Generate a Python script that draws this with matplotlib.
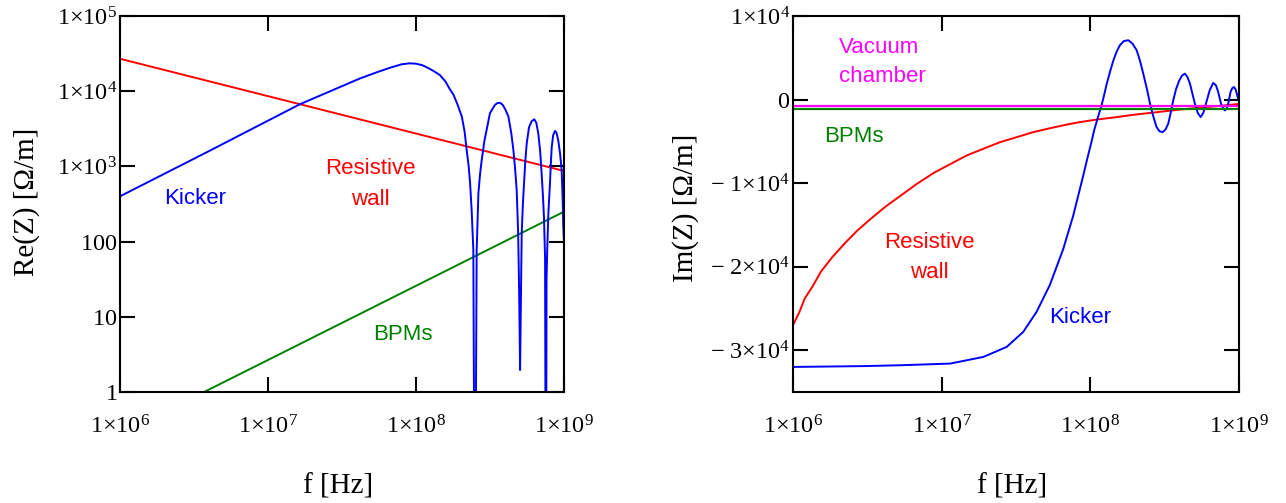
import numpy as np
import matplotlib
matplotlib.use('Agg')
import matplotlib.pyplot as plt
from matplotlib.ticker import FixedLocator, FixedFormatter, NullLocator

plt.rcParams['mathtext.fontset'] = 'custom'
plt.rcParams['mathtext.rm'] = 'Liberation Serif'
plt.rcParams['mathtext.it'] = 'Liberation Serif:italic'
plt.rcParams['font.family'] = ['Liberation Serif', 'DejaVu Serif']

# ---- Re(Z) data (left panel) ----
rw_re_f = [1e6, 1e9]
rw_re = [2.7e4, 870]

bpm_re_f = [3.7e6, 1e9]
bpm_re = [1.0, 250]

kick_re_f = [1e6, 2e6, 4e6, 7.55e6, 1.64e7, 2.76e7, 4.19e7, 5.5e7, 6.67e7,
             8e7, 9.1e7, 1.0e8, 1.1e8, 1.2e8, 1.3e8, 1.45e8, 1.58e8, 1.68e8,
             1.79e8, 1.9e8, 2.04e8, 2.13e8, 2.2e8, 2.27e8, 2.32e8, 2.38e8,
             2.44e8, 2.5e8, 2.57e8, 2.64e8, 2.71e8, 2.78e8, 2.9e8, 3.0e8,
             3.16e8, 3.42e8, 3.55e8, 3.7e8, 3.85e8, 4.0e8, 4.21e8, 4.4e8,
             4.55e8, 4.68e8, 4.79e8, 4.9e8, 4.98e8, 5.05e8, 5.12e8, 5.18e8,
             5.28e8, 5.37e8, 5.48e8, 5.6e8, 5.8e8, 6.05e8, 6.3e8, 6.5e8,
             6.7e8, 6.9e8, 7.06e8, 7.2e8, 7.32e8, 7.45e8, 7.55e8, 7.62e8,
             7.7e8, 7.85e8, 8.04e8, 8.15e8, 8.26e8, 8.45e8, 8.69e8, 8.9e8,
             9.15e8, 9.4e8, 9.64e8, 9.78e8, 9.89e8, 9.99e8, 1e9]
kick_re = [400, 800, 1600, 3.05e3, 6.7e3, 1.04e4, 1.48e4, 1.8e4, 2.05e4,
           2.28e4, 2.35e4, 2.32e4, 2.22e4, 2.05e4, 1.88e4, 1.64e4, 1.35e4, 1.09e4,
           9.0e3, 6.8e3, 4.6e3, 2.9e3, 1.65e3, 1.0e3, 600, 250,
           77, 1e-3, 77, 440, 800, 1.22e3, 2.2e3, 3.05e3,
           5.1e3, 6.6e3, 6.95e3, 7.0e3, 6.6e3, 5.8e3, 4.6e3, 2.8e3,
           1.65e3, 900, 486, 130, 20, 1.96, 20, 130,
           330, 595, 1.2e3, 2.03e3, 3.3e3, 4.0e3, 4.23e3, 3.8e3,
           2.76e3, 1.6e3, 810, 420, 214, 60, 1e-3, 30,
           77, 250, 595, 1.1e3, 1.8e3, 2.6e3, 2.96e3, 2.8e3,
           2.2e3, 1.5e3, 895, 400, 158, 100, 1e-3]

# ---- Im(Z) data (right panel) ----
rw_im_f = [1e6, 1.1e6, 1.2e6, 1.35e6, 1.54e6, 1.85e6, 2.26e6, 2.7e6, 3.32e6,
           4.2e6, 5.3e6, 6.8e6, 8.8e6, 1.15e7, 1.47e7, 1.9e7, 2.47e7, 3.2e7,
           4.13e7, 5.3e7, 6.92e7, 8.5e7, 1.1e8, 1.5e8, 2e8, 3e8, 4e8, 6e8,
           8e8, 1e9]
rw_im = [-2.7e4, -2.55e4, -2.38e4, -2.24e4, -2.06e4, -1.88e4, -1.71e4, -1.57e4,
         -1.43e4, -1.28e4, -1.15e4, -1.01e4, -8.8e3, -7.7e3, -6.7e3, -5.9e3,
         -5.1e3, -4.5e3, -3.9e3, -3.45e3, -3.0e3, -2.7e3, -2.4e3, -2.1e3,
         -1.8e3, -1.45e3, -1.2e3, -900, -700, -520]

kick_im_f = [1e6, 3e6, 5.24e6, 1.14e7, 1.91e7, 2.74e7, 3.54e7, 4.35e7, 5.34e7,
             6.57e7, 7.67e7, 8.96e7, 9.5e7, 1.02e8, 1.06e8, 1.13e8, 1.19e8,
             1.24e8, 1.29e8, 1.36e8, 1.43e8, 1.5e8, 1.58e8, 1.68e8, 1.8e8,
             1.92e8, 2.05e8, 2.16e8, 2.27e8, 2.4e8, 2.52e8, 2.65e8, 2.79e8,
             2.92e8, 3.06e8, 3.2e8, 3.34e8, 3.47e8, 3.61e8, 3.78e8, 3.97e8,
             4.15e8, 4.33e8, 4.5e8, 4.68e8, 4.86e8, 5.05e8, 5.28e8, 5.52e8,
             5.75e8, 5.99e8, 6.35e8, 6.71e8, 7.0e8, 7.25e8, 7.45e8, 7.63e8,
             8.04e8, 8.25e8, 8.46e8, 8.77e8, 9.0e8, 9.24e8, 9.5e8, 9.73e8, 1e9]
kick_im = [-3.2e4, -3.19e4, -3.18e4, -3.16e4, -3.08e4, -2.96e4, -2.78e4,
           -2.54e4, -2.22e4, -1.79e4, -1.39e4, -9.1e3, -7.2e3, -5.0e3, -3.7e3,
           -2.0e3, -700, 600, 1.9e3, 3.4e3, 4.7e3, 5.7e3, 6.5e3, 7.0e3, 7.1e3,
           6.7e3, 5.9e3, 4.6e3, 3.1e3, 1.3e3, -500, -2.0e3, -3.3e3,
           -3.8e3, -3.9e3, -3.6e3, -2.9e3, -1.6e3, -100, 1.3e3, 2.3e3,
           2.9e3, 3.1e3, 2.7e3, 1.9e3, 700, -500, -1.6e3, -2.1e3,
           -1.6e3, -500, 1.1e3, 2.0e3, 1.7e3, 900, 0, -700,
           -1.3e3, -1.1e3, -500, 900, 1.35e3, 1.5e3, 1.2e3, 500, -300]

vac_im_f = [1e6, 1e9]
vac_im = [-810, -810]
bpm_im_f = [1e6, 1e9]
bpm_im = [-1090, -1090]

x_ticks = [1e6, 1e7, 1e8, 1e9]
x_labels = [r'$1{\times}10^{6}$', r'$1{\times}10^{7}$', r'$1{\times}10^{8}$',
            r'$1{\times}10^{9}$']
re_ticks = [1, 10, 100, 1e3, 1e4, 1e5]
re_labels = [r'$1$', r'$10$', r'$100$', r'$1{\times}10^{3}$', r'$1{\times}10^{4}$',
             r'$1{\times}10^{5}$']
im_ticks = [-3e4, -2e4, -1e4, 0, 1e4]
im_labels = [r'$-\ 3{\times}10^{4}$', r'$-\ 2{\times}10^{4}$', r'$-\ 1{\times}10^{4}$',
             r'$0$', r'$1{\times}10^{4}$']

BLUE, RED, GREEN, MAG = '#0000FF', '#FF0000', '#008000', '#FF00FF'
ann_font = dict(family='Liberation Sans', fontsize=16)

fig = plt.figure(figsize=(12.86, 5.03), dpi=100)
ax1 = fig.add_axes([120 / 1286, 1 - 392 / 503, 444 / 1286, 376 / 503])
ax2 = fig.add_axes([793 / 1286, 1 - 392 / 503, 446 / 1286, 376 / 503])


def style(ax):
    ax.set_xscale('log')
    ax.set_xlim(1e6, 1e9)
    ax.xaxis.set_major_locator(FixedLocator(x_ticks))
    ax.xaxis.set_major_formatter(FixedFormatter(x_labels))
    ax.xaxis.set_minor_locator(NullLocator())
    ax.yaxis.set_minor_locator(NullLocator())
    ax.tick_params(direction='in', length=11, width=1.5, top=True, right=True,
                   labelsize=17.5)
    ax.tick_params(axis='x', pad=17)
    ax.tick_params(axis='y', pad=2)
    for s in ax.spines.values():
        s.set_linewidth(1.5)


# left: real part
ax1.set_yscale('log')
style(ax1)
ax1.set_ylim(1, 1e5)
ax1.yaxis.set_major_locator(FixedLocator(re_ticks))
ax1.yaxis.set_major_formatter(FixedFormatter(re_labels))
ax1.plot(rw_re_f, rw_re, color=RED, lw=1.4)
ax1.plot(bpm_re_f, bpm_re, color=GREEN, lw=1.4)
ax1.plot(kick_re_f, kick_re, color=BLUE, lw=1.4)
ax1.set_ylabel('Re(Z) [Ω/m]', fontsize=21, va='center')
ax1.yaxis.set_label_coords(-0.21, 0.505)
ax1.set_xlabel('f [Hz]', fontsize=21, va='center')
ax1.xaxis.set_label_coords(0.491, -0.25)
ax1.text(3.2e6, 380, 'Kicker', color=BLUE, ha='center', va='center', **ann_font)
ax1.text(4.9e7, 580, 'Resistive\nwall', color=RED, ha='center', va='center',
         linespacing=1.6, **ann_font)
ax1.text(8.2e7, 5.9, 'BPMs', color=GREEN, ha='center', va='center', **ann_font)

# right: imaginary part
style(ax2)
ax2.set_ylim(-3.5e4, 1e4)
ax2.yaxis.set_major_locator(FixedLocator(im_ticks))
ax2.yaxis.set_major_formatter(FixedFormatter(im_labels))
ax2.plot(rw_im_f, rw_im, color=RED, lw=1.4)
ax2.plot(kick_im_f, kick_im, color=BLUE, lw=1.4)
ax2.plot(bpm_im_f, bpm_im, color=GREEN, lw=1.6)
ax2.plot(vac_im_f, vac_im, color=MAG, lw=1.6)
ax2.set_ylabel('Im(Z) [Ω/m]', fontsize=21, va='center')
ax2.yaxis.set_label_coords(-0.24, 0.489)
ax2.set_xlabel('f [Hz]', fontsize=21, va='center')
ax2.xaxis.set_label_coords(0.491, -0.25)
ax2.text(2.04e6, 4.5e3, 'Vacuum\nchamber', color=MAG, ha='left', va='center',
         linespacing=1.55, **ann_font)
ax2.text(2.57e6, -4.46e3, 'BPMs', color=GREEN, ha='center', va='center', **ann_font)
ax2.text(8.3e6, -1.89e4, 'Resistive\nwall', color=RED, ha='center', va='center',
         linespacing=1.6, **ann_font)
ax2.text(8.6e7, -2.61e4, 'Kicker', color=BLUE, ha='center', va='center', **ann_font)

fig.savefig('out.png', dpi=100)
